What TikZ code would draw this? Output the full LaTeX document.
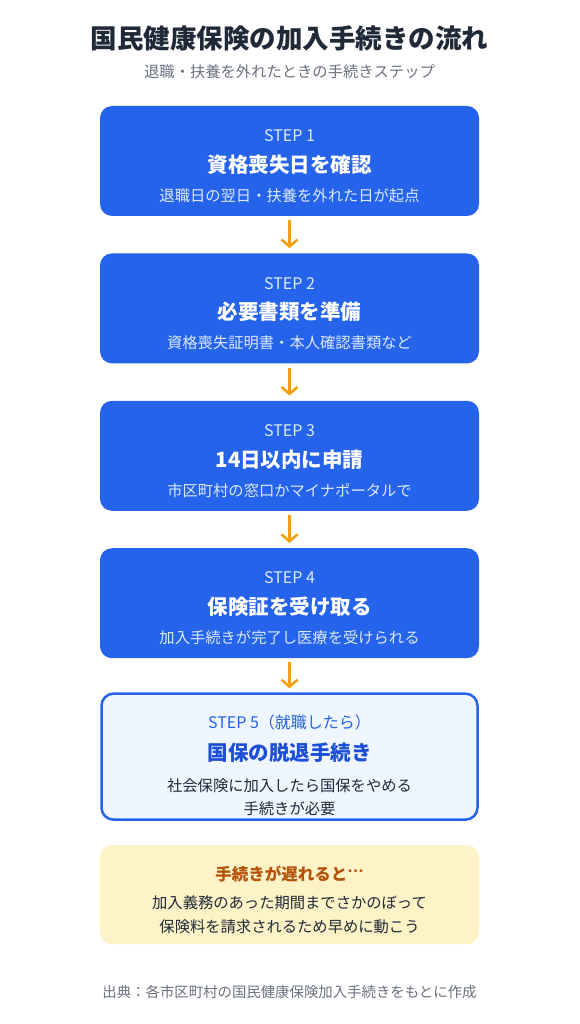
\documentclass[tikz,border=0pt]{standalone}
\usepackage{fontspec}
\setmainfont[Language=Japanese]{Noto Sans CJK JP}
\usepackage{tikz}
\usetikzlibrary{positioning,arrows.meta}
\definecolor{cazul}{HTML}{2563EB}
\definecolor{cazulos}{HTML}{1D4ED8}
\definecolor{cazulcl}{HTML}{EFF6FF}
\definecolor{cazulte}{HTML}{DBEAFE}
\definecolor{cambar}{HTML}{F59E0B}
\definecolor{camarcl}{HTML}{FEF3C7}
\definecolor{cnaranja}{HTML}{B45309}
\definecolor{cnegro}{HTML}{1F2937}
\definecolor{cgris}{HTML}{6B7280}
\tikzset{
  paso/.style={rectangle, rounded corners=12pt, fill=cazul,
    minimum width=379pt, minimum height=110pt, inner sep=0pt},
  pasof/.style={rectangle, rounded corners=12pt, draw=cazul, line width=2.5pt,
    fill=cazulcl, minimum width=376pt, minimum height=126pt, inner sep=0pt},
  aviso/.style={rectangle, rounded corners=12pt, fill=camarcl,
    minimum width=379pt, minimum height=99pt, inner sep=0pt},
  etqpaso/.style={font=\fontsize{16}{19}\selectfont, text=cazulte, inner sep=0pt},
  titpaso/.style={font=\fontsize{20.5}{24}\selectfont\bfseries, text=white, inner sep=0pt},
  subpaso/.style={font=\fontsize{15.3}{18}\selectfont, text=cazulte, inner sep=0pt},
  texto/.style={font=\fontsize{15.3}{18}\selectfont, text=cnegro, inner sep=0pt},
  flecha/.style={-{Straight Barb[length=7pt, width=16pt]}, line width=2.5pt, draw=cambar},
}
\begin{document}
\begin{tikzpicture}[node distance=37pt]
  \useasboundingbox[fill=white] (0,0) rectangle (579pt,-1024pt);
  \node[font=\fontsize{26.5}{30}\selectfont\bfseries, text=cnegro] (tit) at (289.5pt,-38pt)
    {国民健康保険の加入手続きの流れ};
  \node[font=\fontsize{15.3}{18}\selectfont, text=cgris] (sub) at (289.5pt,-72pt)
    {退職・扶養を外れたときの手続きステップ};
  % pasos
  \node[paso] (s1) at (289.5pt,-161pt) {};
  \node[paso, below=of s1] (s2) {};
  \node[paso, below=of s2] (s3) {};
  \node[paso, below=of s3] (s4) {};
  \node[pasof, below=34pt of s4] (s5) {};
  \node[aviso, below=24pt of s5] (av) {};
  \draw[flecha] ([yshift=-4pt]s1.south) -- ([yshift=5pt]s2.north);
  \draw[flecha] ([yshift=-4pt]s2.south) -- ([yshift=5pt]s3.north);
  \draw[flecha] ([yshift=-4pt]s3.south) -- ([yshift=5pt]s4.north);
  \draw[flecha] ([yshift=-4pt]s4.south) -- ([yshift=4pt]s5.north);
  % textos
  \node[etqpaso] (s1a) at ([yshift=-30pt]s1.north) {STEP 1};
  \node[titpaso] (s1b) at ([yshift=-59pt]s1.north) {資格喪失日を確認};
  \node[subpaso] (s1c) at ([yshift=-90pt]s1.north) {退職日の翌日・扶養を外れた日が起点};
  \node[etqpaso] (s2a) at ([yshift=-30pt]s2.north) {STEP 2};
  \node[titpaso] (s2b) at ([yshift=-59pt]s2.north) {必要書類を準備};
  \node[subpaso] (s2c) at ([yshift=-90pt]s2.north) {資格喪失証明書・本人確認書類など};
  \node[etqpaso] (s3a) at ([yshift=-30pt]s3.north) {STEP 3};
  \node[titpaso] (s3b) at ([yshift=-59pt]s3.north) {14日以内に申請};
  \node[subpaso] (s3c) at ([yshift=-90pt]s3.north) {市区町村の窓口かマイナポータルで};
  \node[etqpaso] (s4a) at ([yshift=-30pt]s4.north) {STEP 4};
  \node[titpaso] (s4b) at ([yshift=-59pt]s4.north) {保険証を受け取る};
  \node[subpaso] (s4c) at ([yshift=-90pt]s4.north) {加入手続きが完了し医療を受けられる};
  \node[etqpaso, text=cazul] (s5a) at ([yshift=-30pt]s5.north) {STEP 5（就職したら）};
  \node[titpaso, text=cazulos] (s5b) at ([yshift=-60pt]s5.north) {国保の脱退手続き};
  \node[texto] (s5c) at ([yshift=-93pt]s5.north) {社会保険に加入したら国保をやめる};
  \node[texto] (s5d) at ([yshift=-116pt]s5.north) {手続きが必要};
  \node[font=\fontsize{16.5}{20}\selectfont\bfseries, text=cnaranja] (ava) at ([yshift=-29pt]av.north)
    {手続きが遅れると\raisebox{0.2em}{…}};
  \node[texto] (avb) at ([yshift=-58pt]av.north) {加入義務のあった期間までさかのぼって};
  \node[texto] (avc) at ([yshift=-82pt]av.north) {保険料を請求されるため早めに動こう};
  \node[font=\fontsize{14.4}{17}\selectfont, text=cgris] (fte) at (289.5pt,-992pt)
    {出典：各市区町村の国民健康保険加入手続きをもとに作成};
\end{tikzpicture}
\end{document}
